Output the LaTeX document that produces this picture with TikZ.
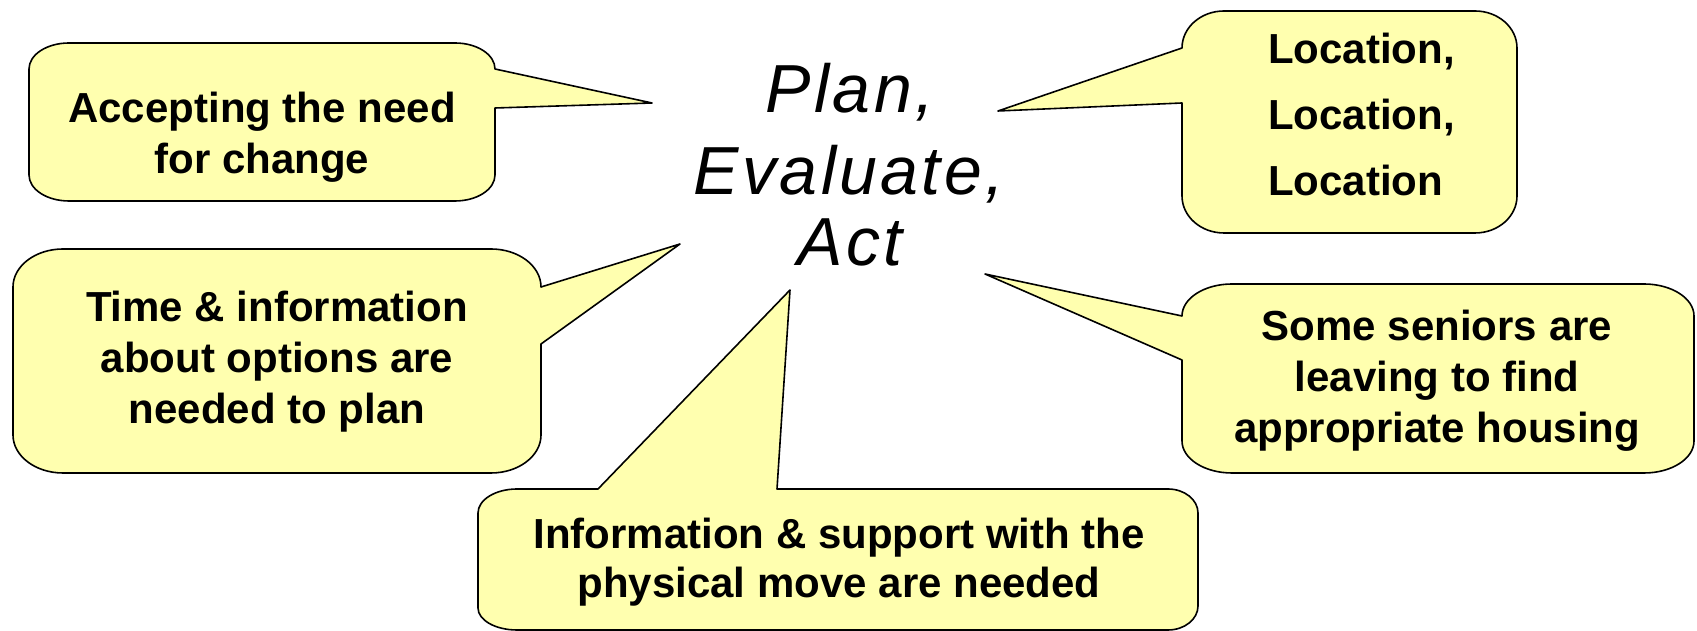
\documentclass[tikz,border=0pt]{standalone}
\usepackage{fontspec}
\setmainfont{Liberation Sans}
\newfontfamily\centerfont[LetterSpace=5]{Liberation Sans}
\definecolor{callfill}{RGB}{255,255,175}
\tikzset{
  callshape/.style={draw=black, line width=1.6pt, fill=callfill, line join=round},
  calltext/.style={font=\bfseries\fontsize{42}{51}\selectfont, align=center, inner sep=0pt, text=black},
  bigtext/.style={font=\centerfont\itshape\fontsize{68}{76}\selectfont, inner sep=0pt, anchor=base, text=black}
}
\begin{document}
\begin{tikzpicture}[x=1pt,y=1pt]
\useasboundingbox (0,0) rectangle (1697,631);
% callout 1 (top left)
\draw[callshape] (69,588) -- (455,588)
  arc[start angle=90,end angle=0,x radius=40pt,y radius=26pt]
  -- (652,528) coordinate (tipA) -- (495,523) -- (495,456)
  arc[start angle=0,end angle=-90,x radius=40pt,y radius=26pt]
  -- (69,430)
  arc[start angle=270,end angle=180,x radius=40pt,y radius=26pt]
  -- (29,562)
  arc[start angle=180,end angle=90,x radius=40pt,y radius=26pt] -- cycle;
\node[calltext] (accept) at (262,494) {Accepting the need\\for change};
% callout 2 (top right)
\draw[callshape] (1224,620) -- (1475,620)
  arc[start angle=90,end angle=0,x radius=42pt,y radius=37pt]
  -- (1517,435)
  arc[start angle=0,end angle=-90,x radius=42pt,y radius=37pt]
  -- (1224,398)
  arc[start angle=270,end angle=180,x radius=42pt,y radius=37pt]
  -- (1182,528) -- (998,520) coordinate (tipB) -- (1182,583)
  arc[start angle=180,end angle=90,x radius=42pt,y radius=37pt] -- cycle;
\node[calltext, align=left, anchor=west, font=\bfseries\fontsize{42}{66}\selectfont] (loc) at (1268,517) {Location,\\Location,\\Location};
% callout 3 (middle left)
\draw[callshape] (63,382) -- (491,382)
  arc[start angle=90,end angle=0,x radius=50pt,y radius=38pt]
  -- (680,387) coordinate (tipC) -- (541,287) -- (541,196)
  arc[start angle=0,end angle=-90,x radius=50pt,y radius=38pt]
  -- (63,158)
  arc[start angle=270,end angle=180,x radius=50pt,y radius=38pt]
  -- (13,344)
  arc[start angle=180,end angle=90,x radius=50pt,y radius=38pt] -- cycle;
\node[calltext] (time) at (277,269) {Time \& information\\about options are\\needed to plan};
% callout 4 (right)
\draw[callshape] (1232,347) -- (1644,347)
  arc[start angle=90,end angle=0,x radius=50pt,y radius=32pt]
  -- (1694,190)
  arc[start angle=0,end angle=-90,x radius=50pt,y radius=32pt]
  -- (1232,158)
  arc[start angle=270,end angle=180,x radius=50pt,y radius=32pt]
  -- (1182,271) -- (985,357) coordinate (tipD) -- (1182,315)
  arc[start angle=180,end angle=90,x radius=50pt,y radius=32pt] -- cycle;
\node[calltext] (seniors) at (1437,250) {Some seniors are\\leaving to find\\appropriate housing};
% callout 5 (bottom)
\draw[callshape] (517,142) -- (598,142) -- (790,341) coordinate (tipE) -- (777,142) -- (1168,142)
  arc[start angle=90,end angle=0,x radius=30pt,y radius=24pt]
  -- (1198,25)
  arc[start angle=0,end angle=-90,x radius=30pt,y radius=24pt]
  -- (517,1)
  arc[start angle=270,end angle=180,x radius=39pt,y radius=22pt]
  -- (478,118)
  arc[start angle=180,end angle=90,x radius=39pt,y radius=24pt] -- cycle;
\node[calltext, font=\bfseries\fontsize{42}{49}\selectfont] (move) at (839,69) {Information \& support with the\\physical move are needed};
% centre text
\node[bigtext] (plan) at (850,518) {Plan,};
\node[bigtext] (eval) at (849,436) {Evaluate,};
\node[bigtext] (act) at (850,365) {Act};
\end{tikzpicture}
\end{document}
